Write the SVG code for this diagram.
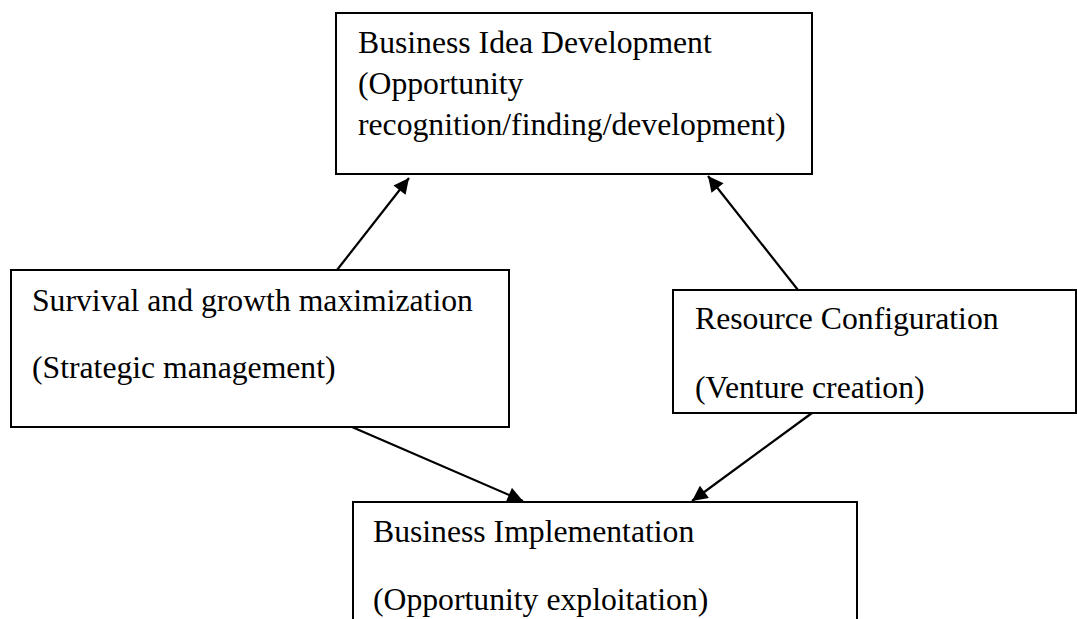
<svg xmlns="http://www.w3.org/2000/svg" width="1077" height="619" viewBox="0 0 1077 619">
<defs>
<style>
.box{fill:#fff;stroke:#000;stroke-width:2}
.t{font-family:"Liberation Serif","Times New Roman",serif;font-size:31.7px;fill:#000}
.c{stroke:#000;stroke-width:2.2;fill:none;marker-end:url(#ah)}
</style>
<marker id="ah" viewBox="0 0 10 10" refX="10" refY="5" markerWidth="8" markerHeight="7" markerUnits="strokeWidth" orient="auto">
<path d="M0,0 L10,5 L0,10 z" fill="#000"/>
</marker>
</defs>
<rect width="1077" height="619" fill="#fff"/>
<g id="connectors">
<line class="c" x1="337" y1="270" x2="409" y2="178"/>
<line class="c" x1="798" y1="290" x2="708" y2="176"/>
<line class="c" x1="352" y1="427" x2="523" y2="501"/>
<line class="c" x1="812" y1="413" x2="692" y2="501"/>
</g>
<g id="node-idea">
<rect class="box" x="336" y="13" width="476" height="161"/>
<text class="t" x="358" y="53">Business Idea Development</text>
<text class="t" x="358" y="94">(Opportunity</text>
<text class="t" x="358" y="135">recognition/finding/development)</text>
</g>
<g id="node-survival">
<rect class="box" x="11" y="270" width="498" height="157"/>
<text class="t" x="32" y="311">Survival and growth maximization</text>
<text class="t" x="32" y="378">(Strategic management)</text>
</g>
<g id="node-resource">
<rect class="box" x="673" y="290" width="403" height="123"/>
<text class="t" x="695" y="329">Resource Configuration</text>
<text class="t" x="695" y="398">(Venture creation)</text>
</g>
<g id="node-implementation">
<rect class="box" x="353" y="502" width="504" height="130"/>
<text class="t" x="373" y="542">Business Implementation</text>
<text class="t" x="373" y="610">(Opportunity exploitation)</text>
</g>
</svg>
